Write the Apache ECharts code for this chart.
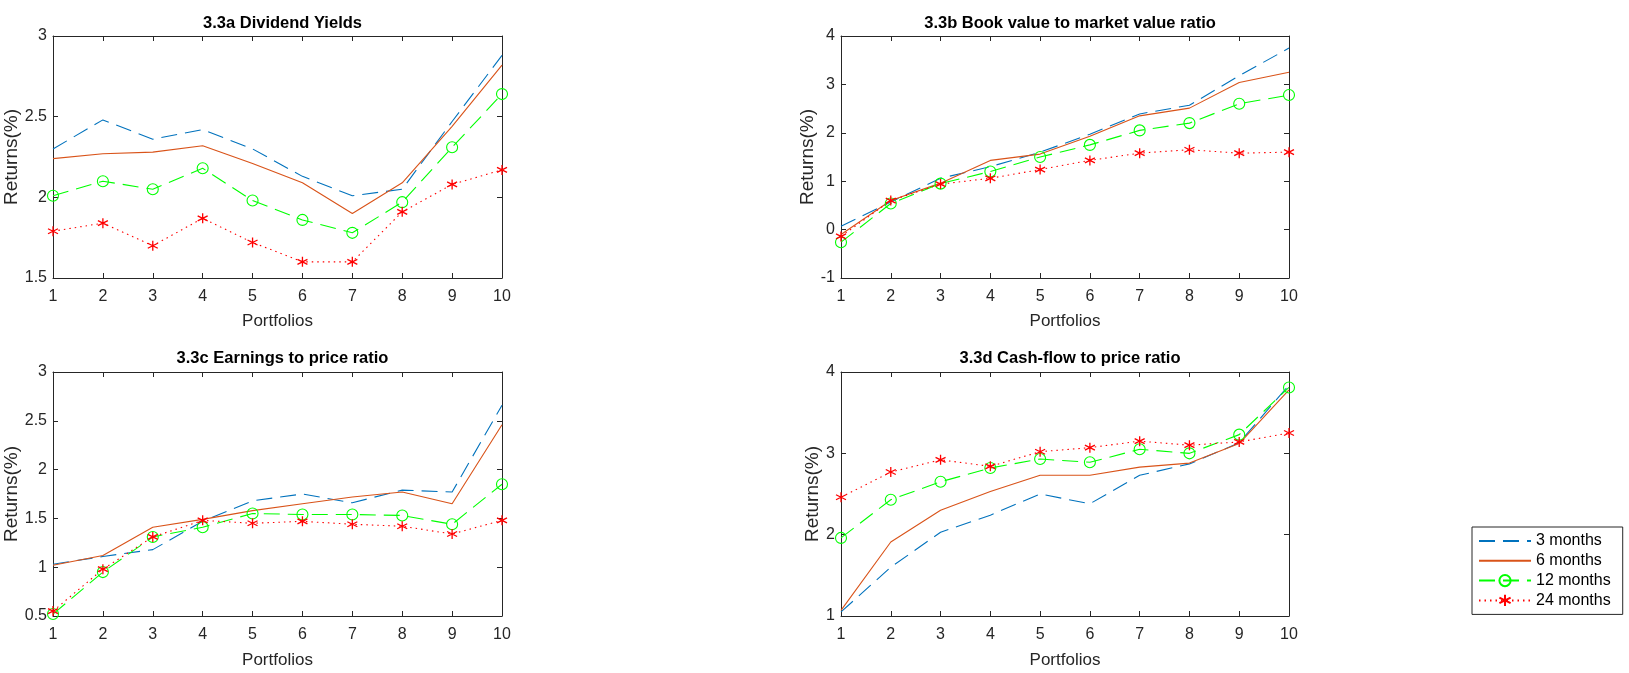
<!DOCTYPE html>
<html><head><meta charset="utf-8">
<script src="https://cdn.jsdelivr.net/npm/echarts@6/dist/echarts.min.js"></script>
<style>html,body{margin:0;padding:0;background:#fff}#c{width:1629px;height:673px}</style>
</head><body><div id="c"></div>
<script>
// ---------- data ----------
const portfolios = ['1','2','3','4','5','6','7','8','9','10'];
const seriesNames = ['3 months','6 months','12 months','24 months'];
const panelTitles = ['3.3a Dividend Yields','3.3b Book value to market value ratio','3.3c Earnings to price ratio','3.3d Cash-flow to price ratio'];
const xAxisName = 'Portfolios';
const yAxisName = 'Returns(%)';

// 3.3a Dividend Yields
const dy3  = [2.30, 2.48, 2.36, 2.42, 2.30, 2.13, 2.01, 2.05, 2.47, 2.88];
const dy6  = [2.24, 2.27, 2.28, 2.32, 2.21, 2.09, 1.90, 2.09, 2.44, 2.82];
const dy12 = [2.01, 2.10, 2.05, 2.18, 1.98, 1.86, 1.78, 1.97, 2.31, 2.64];
const dy24 = [1.79, 1.84, 1.70, 1.87, 1.72, 1.60, 1.60, 1.91, 2.08, 2.17];

// 3.3b Book value to market value ratio
const bm3  = [0.07, 0.57, 1.06, 1.30, 1.60, 1.97, 2.39, 2.57, 3.18, 3.75];
const bm6  = [-0.10, 0.60, 0.96, 1.43, 1.56, 1.93, 2.35, 2.51, 3.04, 3.25];
const bm12 = [-0.26, 0.54, 0.95, 1.20, 1.50, 1.75, 2.05, 2.20, 2.60, 2.78];
const bm24 = [-0.14, 0.60, 0.94, 1.06, 1.24, 1.43, 1.58, 1.65, 1.58, 1.60];

// 3.3c Earnings to price ratio
const ep3  = [1.03, 1.11, 1.18, 1.47, 1.68, 1.75, 1.66, 1.79, 1.77, 2.66];
const ep6  = [1.02, 1.12, 1.41, 1.49, 1.58, 1.65, 1.72, 1.77, 1.65, 2.46];
const ep12 = [0.52, 0.95, 1.31, 1.41, 1.55, 1.54, 1.54, 1.53, 1.44, 1.85];
const ep24 = [0.55, 0.98, 1.31, 1.48, 1.45, 1.47, 1.44, 1.42, 1.34, 1.48];

// 3.3d Cash-flow to price ratio
const cf3  = [1.05, 1.60, 2.03, 2.24, 2.50, 2.38, 2.73, 2.87, 3.13, 3.84];
const cf6  = [1.07, 1.91, 2.30, 2.53, 2.73, 2.73, 2.83, 2.88, 3.12, 3.78];
const cf12 = [1.96, 2.43, 2.65, 2.82, 2.93, 2.89, 3.05, 3.00, 3.23, 3.81];
const cf24 = [2.46, 2.77, 2.92, 2.84, 3.02, 3.07, 3.15, 3.10, 3.14, 3.25];

const yRanges = [[1.5, 3, 0.5], [-1, 4, 1], [0.5, 3, 0.5], [1, 4, 1]];
const panelData = [[dy3, dy6, dy12, dy24],[bm3, bm6, bm12, bm24],[ep3, ep6, ep12, ep24],[cf3, cf6, cf12, cf24]];

// ---------- layout / style ----------
const grids = [
  {left: 53, top: 36, width: 449, height: 242},
  {left: 841, top: 36, width: 448, height: 242},
  {left: 53, top: 372, width: 449, height: 244},
  {left: 841, top: 372, width: 448, height: 244}
];
const yNameGaps = [26, 20, 26, 15];
const xNameGaps = [35, 35, 36, 36];
const titleTops = [10, 10, 345, 345];
const AX = '#262626';
const FONT = "'Liberation Sans', Arial, sans-serif";
const colors = ['#0072BD', '#D95319', '#00FF00', '#FF0000'];
const STAR = 'path://M0,-1L0,1M-0.866,-0.5L0.866,0.5M-0.866,0.5L0.866,-0.5';

const xAxes = [], yAxes = [], series = [], titleArr = [];
grids.forEach((g, i) => {
  const tick = {show: true, inside: true, length: 5, lineStyle: {color: AX, width: 1}};
  const line = {show: true, onZero: false, lineStyle: {color: AX, width: 1}};
  xAxes.push({gridIndex: i, type: 'category', data: portfolios, boundaryGap: false, position: 'bottom',
    axisLine: line, axisTick: Object.assign({interval: 0}, tick),
    axisLabel: {interval: 0, color: AX, fontFamily: FONT, fontSize: 16, margin: 11},
    name: xAxisName, nameLocation: 'middle', nameGap: xNameGaps[i],
    nameTextStyle: {color: AX, fontFamily: FONT, fontSize: 17},
    splitLine: {show: false}});
  xAxes.push({gridIndex: i, type: 'category', data: portfolios, boundaryGap: false, position: 'top',
    axisLine: line, axisTick: Object.assign({interval: 0}, tick), axisLabel: {show: false}, splitLine: {show: false}});
  const [mn, mx, iv] = yRanges[i];
  yAxes.push({gridIndex: i, type: 'value', min: mn, max: mx, interval: iv, position: 'left',
    axisLine: line, axisTick: tick,
    axisLabel: {color: AX, fontFamily: FONT, fontSize: 16, margin: 6},
    name: yAxisName, nameLocation: 'middle', nameGap: yNameGaps[i], nameRotate: 90,
    nameTextStyle: {color: AX, fontFamily: FONT, fontSize: 19},
    splitLine: {show: false}});
  yAxes.push({gridIndex: i, type: 'value', min: mn, max: mx, interval: iv, position: 'right',
    axisLine: line, axisTick: tick,
    axisLabel: {show: false}, splitLine: {show: false}});
  titleArr.push({text: panelTitles[i], left: g.left + g.width / 2, top: titleTops[i], textAlign: 'center',
    textStyle: {fontFamily: FONT, fontWeight: 'bold', fontSize: 16.5, color: '#000'}});
  const d = panelData[i];
  const base = {type: 'line', xAxisIndex: 2 * i, yAxisIndex: 2 * i, silent: true, animation: false};
  series.push(Object.assign({}, base, {name: seriesNames[0], data: d[0], symbol: 'none', color: colors[0],
    lineStyle: {color: colors[0], width: 1.1, type: [16, 8]}}));
  series.push(Object.assign({}, base, {name: seriesNames[1], data: d[1], symbol: 'none', color: colors[1],
    lineStyle: {color: colors[1], width: 1.1, type: 'solid'}}));
  series.push(Object.assign({}, base, {name: seriesNames[2], data: d[2], symbol: 'circle', symbolSize: 11, color: colors[2],
    itemStyle: {color: 'rgba(0,0,0,0)', borderColor: colors[2], borderWidth: 1.1},
    lineStyle: {color: colors[2], width: 1.1, type: [16, 8]}}));
  series.push(Object.assign({}, base, {name: seriesNames[3], data: d[3], symbol: STAR, symbolSize: 10, color: colors[3],
    itemStyle: {color: colors[3], borderColor: colors[3], borderWidth: 1.3},
    lineStyle: {color: colors[3], width: 1.1, type: [1.5, 4]}}));
});

const chart = echarts.init(document.getElementById('c'), null, {renderer: 'canvas'});
chart.setOption({
  backgroundColor: '#fff',
  animation: false,
  title: titleArr,
  grid: grids.map(g => Object.assign({containLabel: false}, g)),
  xAxis: xAxes,
  yAxis: yAxes,
  legend: {
    data: [
      {name: seriesNames[0], itemStyle: {opacity: 0}},
      {name: seriesNames[1], itemStyle: {opacity: 0}},
      {name: seriesNames[2]},
      {name: seriesNames[3]}
    ],
    orient: 'vertical', left: 1472, top: 527,
    itemWidth: 52, itemHeight: 14, itemGap: 3.8, padding: [6, 12, 6, 6],
    borderColor: AX, borderWidth: 1, backgroundColor: '#fff',
    textStyle: {fontFamily: FONT, fontSize: 16, color: '#000'}, selectedMode: false},
  series: series
});
</script></body></html>
